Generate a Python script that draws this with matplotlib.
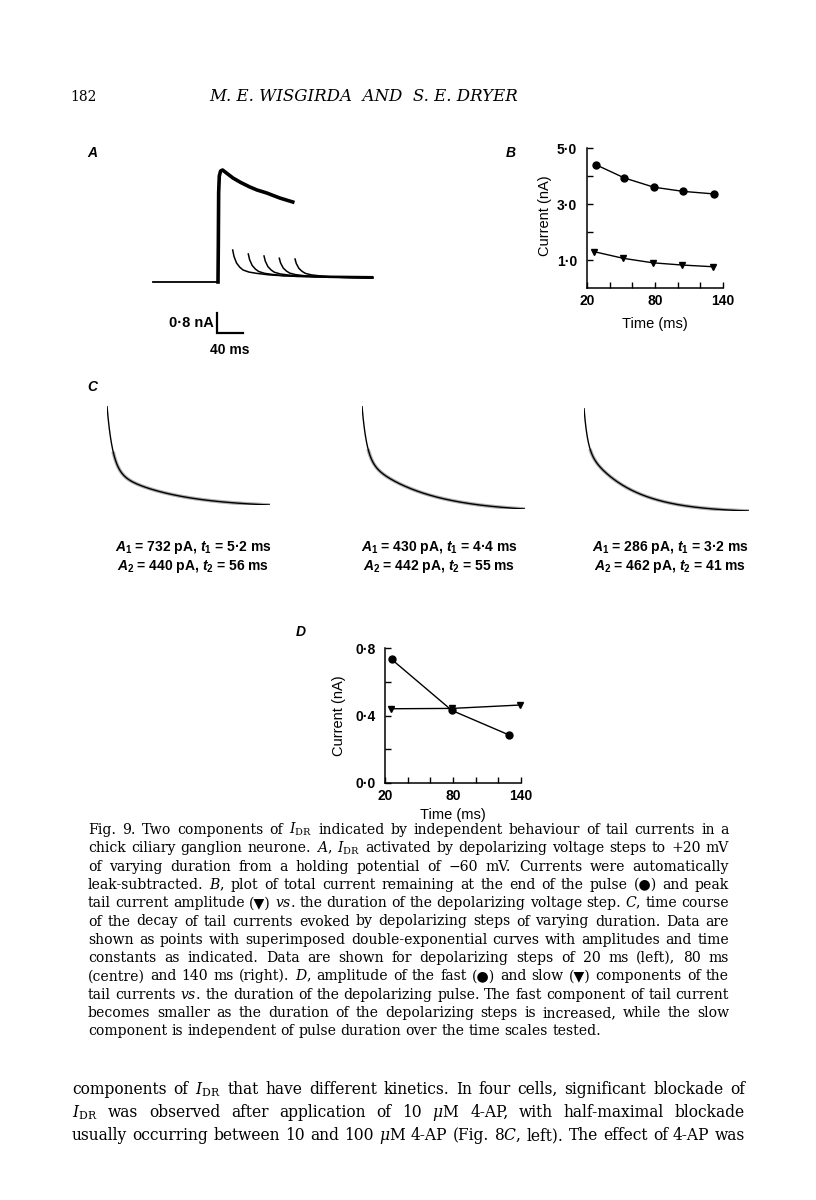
import matplotlib
matplotlib.use('Agg')
import matplotlib.pyplot as plt
import numpy as np
from matplotlib.ticker import FuncFormatter

W, H = 816, 1200
SANS = ['Liberation Sans', 'DejaVu Sans']
SERIF = ['DejaVu Serif', 'DejaVu Sans']

plt.rcParams['font.family'] = SANS
plt.rcParams['mathtext.fontset'] = 'custom'
plt.rcParams['mathtext.rm'] = 'Liberation Sans:bold'
plt.rcParams['mathtext.it'] = 'Liberation Sans:italic:bold'
plt.rcParams['mathtext.bf'] = 'Liberation Sans:bold'

# ---- data ----
# A: currents (time in ms from step onset, current in nA)
a_base_t = [-100, 0]
a_base_i = [0, 0]
a_pulse_t = [0, 0.5, 1, 2, 4, 7, 12, 23, 35, 49, 60, 75, 85, 95, 105, 115]
a_pulse_i = [0, 1.5, 3.56, 4.24, 4.44, 4.48, 4.38, 4.16, 3.98, 3.80, 3.68, 3.56, 3.46, 3.36, 3.28, 3.20]
a_tail_start = [22.6, 46.6, 70.8, 94.3, 118.5]
a_tail_peak = [1.28, 1.12, 1.04, 0.95, 0.92]
a_tail_dt = [0, 2, 6, 11, 16, 25, 37, 55, 77]
a_tail_frac = [1, 0.80, 0.59, 0.46, 0.375, 0.31, 0.27, 0.225, 0.195]
a_tail_end_t = 238
a_tail_end_frac = 0.165

# B: total current (circles) and peak tail current (triangles)
b_t_total = [28, 53, 79, 105, 132]
b_total = [4.40, 3.93, 3.60, 3.45, 3.36]
b_t_tail = [26, 52, 78, 104, 131]
b_tail = [1.30, 1.06, 0.90, 0.82, 0.76]

# C: double-exponential fits (pA, ms)
c_A1 = [732, 430, 286]
c_t1 = [5.2, 4.4, 3.2]
c_A2 = [440, 442, 462]
c_t2 = [56, 55, 41]
c_T = 150

# D: fast (circles) and slow (triangles) components
d_t_fast = [26, 79, 129]
d_fast = [0.732, 0.430, 0.286]
d_t_slow = [25, 79, 139]
d_slow = [0.440, 0.442, 0.462]

caption = [
    r"Fig. 9. Two components of $I_{\mathrm{DR}}$ indicated by independent behaviour of tail currents in a",
    r"chick ciliary ganglion neurone. $A$, $I_{\mathrm{DR}}$ activated by depolarizing voltage steps to +20 mV",
    r"of varying duration from a holding potential of −60 mV. Currents were automatically",
    r"leak-subtracted. $B$, plot of total current remaining at the end of the pulse (●) and peak",
    r"tail current amplitude (▼) $\mathit{vs}$. the duration of the depolarizing voltage step. $C$, time course",
    r"of the decay of tail currents evoked by depolarizing steps of varying duration. Data are",
    r"shown as points with superimposed double-exponential curves with amplitudes and time",
    r"constants as indicated. Data are shown for depolarizing steps of 20 ms (left), 80 ms",
    r"(centre) and 140 ms (right). $D$, amplitude of the fast (●) and slow (▼) components of the",
    r"tail currents $\mathit{vs}$. the duration of the depolarizing pulse. The fast component of tail current",
    r"becomes smaller as the duration of the depolarizing steps is increased, while the slow",
    r"component is independent of pulse duration over the time scales tested.",
]
body = [
    r"components of $I_{\mathrm{DR}}$ that have different kinetics. In four cells, significant blockade of",
    r"$I_{\mathrm{DR}}$ was observed after application of 10 $\mu$M 4-AP, with half-maximal blockade",
    r"usually occurring between 10 and 100 $\mu$M 4-AP (Fig. 8$C$, left). The effect of 4-AP was",
]

fig = plt.figure(figsize=(W / 100, H / 100), dpi=100)
renderer = fig.canvas.get_renderer()


def rect(x0, y0, x1, y1):
    return [x0 / W, 1 - y1 / H, (x1 - x0) / W, (y1 - y0) / H]


def ftext(x, y, s, **kw):
    return fig.text(x / W, 1 - y / H, s, **kw)


def serif_text(s, size):
    return ftext(0, 0, s, fontsize=size, family=SERIF, va='baseline',
                 math_fontfamily='dejavuserif')


def justify(lines, x0, x1, y0, dy, last_free=True):
    # font size chosen so the widest full line just fits the measure
    full = lines[:-1] if last_free else lines
    widest = 0
    for line in full:
        tmp = serif_text(line, 10)
        widest = max(widest, tmp.get_window_extent(renderer).width)
        tmp.remove()
    size = 10 * (x1 - x0) / widest
    for k, line in enumerate(lines):
        words = line.split(' ')
        objs = [serif_text(w, size) for w in words]
        ws = [o.get_window_extent(renderer).width for o in objs]
        if last_free and k == len(lines) - 1:
            gap = size * 0.3 * 100 / 72
        else:
            gap = (x1 - x0 - sum(ws)) / (len(words) - 1)
        x = x0
        for o, w in zip(objs, ws):
            o.set_position((x / W, 1 - (y0 + k * dy) / H))
            x += w + gap


dotfmt = FuncFormatter(lambda v, p: f'{v:.1f}'.replace('.', '·'))


def style(ax, xlim, ylim, ymaj, ymin):
    for s in ['top', 'right']:
        ax.spines[s].set_visible(False)
    for s in ['left', 'bottom']:
        ax.spines[s].set_linewidth(1.1)
    ax.set_xlim(xlim)
    ax.set_ylim(ylim)
    ax.set_xticks([20, 80, 140])
    ax.set_xticks([40, 60, 100, 120], minor=True)
    ax.set_yticks(ymaj)
    ax.set_yticks(ymin, minor=True)
    ax.yaxis.set_major_formatter(dotfmt)
    ax.tick_params(which='both', direction='in', length=4, width=1)
    ax.tick_params(axis='x', pad=4, labelsize=10)
    ax.tick_params(axis='y', pad=7, labelsize=10)
    for lbl in ax.get_xticklabels() + ax.get_yticklabels():
        lbl.set_fontweight('bold')
    ax.patch.set_alpha(0)


# ---- header ----
ftext(70, 101, "182", family=SERIF, fontsize=10, va='baseline')
ftext(364, 101, "M. E. WISGIRDA  AND  S. E. DRYER", family=SERIF, fontsize=12,
      style='italic', ha='center', va='baseline')

# ---- panel A ----
axA = fig.add_axes(rect(150, 160, 380, 345))
axA.set_axis_off()
axA.set_xlim((150 - 218) / 0.65, (380 - 218) / 0.65)
axA.set_ylim((282 - 345) / 25, (282 - 160) / 25)
axA.plot(a_base_t, a_base_i, color='black', lw=1.3)
axA.plot(a_pulse_t, a_pulse_i, color='black', lw=2.6, solid_joinstyle='round')
for ts, pk in zip(a_tail_start, a_tail_peak):
    tt = [ts + d for d in a_tail_dt] + [a_tail_end_t]
    ii = [pk * f for f in a_tail_frac] + [pk * a_tail_end_frac]
    axA.plot(tt, ii, color='black', lw=1.1)
sb_t0, sb_i0 = -1.5, -2.04
axA.plot([sb_t0, sb_t0, sb_t0 + 40], [sb_i0 + 0.8, sb_i0, sb_i0], color='black', lw=1.6,
         solid_joinstyle='miter', clip_on=False)
axA.text(sb_t0 - 5, sb_i0 + 0.4, "0·8 nA", ha='right', va='center', fontsize=10.5, fontweight='bold')
axA.text(sb_t0 + 20, sb_i0 - 0.7, "40 ms", ha='center', va='center', fontsize=10, fontweight='bold')

# ---- panel B ----
axB = fig.add_axes(rect(587, 148, 723, 288))
style(axB, (20, 140), (0, 5), [1, 3, 5], [2, 4])
axB.plot(b_t_total, b_total, color='black', lw=1, marker='o', ms=5, clip_on=False)
axB.plot(b_t_tail, b_tail, color='black', lw=1, marker='v', ms=4, clip_on=False)
ftext(545, 216, "Current (nA)", rotation=90, ha='center', va='center', fontsize=10.5)
ftext(655, 324, "Time (ms)", ha='center', va='center', fontsize=10.5)

# ---- panel C ----
c_boxes = [(107, 406, 270, 505), (362, 406, 525, 509), (584, 408, 749, 511)]
c_text_x = [193, 439, 670]
t = np.linspace(0, c_T, 600)
for k, (x0, y0, x1, y1) in enumerate(c_boxes):
    ax = fig.add_axes(rect(x0, y0, x1, y1))
    ax.set_axis_off()
    fit = c_A1[k] * np.exp(-t / c_t1[k]) + c_A2[k] * np.exp(-t / c_t2[k])
    ax.plot(t[t > 6], fit[t > 6], color='#b0b0b0', lw=2.6)
    ax.plot(t, fit, color='black', lw=1.0)
    ax.set_xlim(0, c_T)
    ax.set_ylim(fit.min(), fit.max())
    l1 = rf"$A_1$ = {c_A1[k]} pA, $t_1$ = {str(c_t1[k]).replace('.', '·')} ms"
    l2 = rf"$A_2$ = {c_A2[k]} pA, $t_2$ = {c_t2[k]} ms"
    ftext(c_text_x[k], 548, l1, ha='center', va='center', fontsize=10, fontweight='bold',
          math_fontfamily='custom')
    ftext(c_text_x[k], 567, l2, ha='center', va='center', fontsize=10, fontweight='bold',
          math_fontfamily='custom')

# ---- panel D ----
axD = fig.add_axes(rect(385, 648, 521, 783))
style(axD, (20, 140), (0, 0.8), [0, 0.4, 0.8], [0.2, 0.6])
axD.plot(d_t_fast, d_fast, color='black', lw=1, marker='o', ms=5, clip_on=False)
axD.plot(d_t_slow, d_slow, color='black', lw=1, marker='v', ms=4, clip_on=False)
ftext(339, 716, "Current (nA)", rotation=90, ha='center', va='center', fontsize=10.5)
ftext(453, 815, "Time (ms)", ha='center', va='center', fontsize=10.5)

# ---- panel letters ----
for s, x, y in [("A", 92, 153), ("B", 511, 153), ("C", 92, 387), ("D", 301, 632)]:
    ftext(x, y, s, ha='center', va='center', fontsize=10, style='italic', fontweight='bold')

# ---- caption and body text ----
justify(caption, 88, 729, 834, 18.3)
justify(body, 72, 745, 1094, 23, last_free=False)

fig.savefig('out.png', dpi=100)
